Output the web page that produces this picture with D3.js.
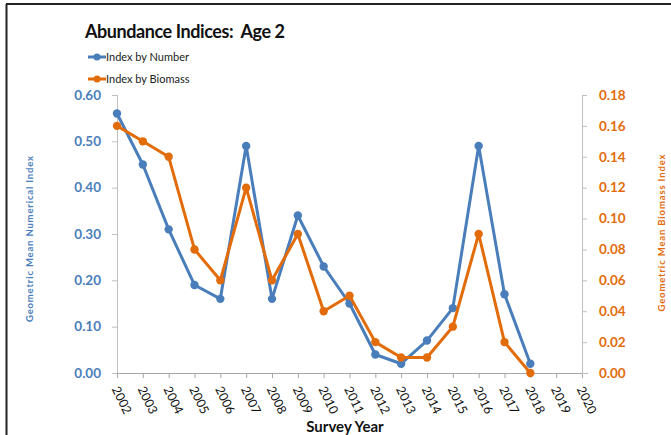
<!DOCTYPE html>
<html>
<head>
<meta charset="utf-8">
<script src="https://cdn.jsdelivr.net/npm/d3@7"></script>
<style>
  body { margin: 0; background: #fff; }
  text { font-family: Lato, "Open Sans", sans-serif; }
</style>
</head>
<body>
<svg id="chart" width="671" height="435"></svg>
<script>
// data
const years = [2002, 2003, 2004, 2005, 2006, 2007, 2008, 2009, 2010, 2011,
  2012, 2013, 2014, 2015, 2016, 2017, 2018, 2019, 2020];
const byNumber = [0.56, 0.45, 0.31, 0.19, 0.16, 0.49, 0.16, 0.34, 0.23, 0.15,
  0.04, 0.02, 0.07, 0.14, 0.49, 0.17, 0.02];
const byBiomass = [0.16, 0.15, 0.14, 0.08, 0.06, 0.12, 0.06, 0.09, 0.04, 0.05,
  0.02, 0.01, 0.01, 0.03, 0.09, 0.02, 0.00];
const leftTicks = [0, 0.1, 0.2, 0.3, 0.4, 0.5, 0.6];
const rightTicks = [0, 0.02, 0.04, 0.06, 0.08, 0.10, 0.12, 0.14, 0.16, 0.18];

const blue = "#4a7ebb", orange = "#e36c0a";
const svg = d3.select("#chart");

// frame lines
svg.append("line").attr("x1", 6).attr("x2", 671).attr("y1", 4).attr("y2", 4)
  .attr("stroke", "#222").attr("stroke-width", 2);
svg.append("line").attr("x1", 6.5).attr("x2", 6.5).attr("y1", 4).attr("y2", 435)
  .attr("stroke", "#222").attr("stroke-width", 2);

// scales
let x = d3.scalePoint().domain(years).range([117, 582]),
  yL = d3.scaleLinear().domain([0, 0.6]).range([373, 95]),
  yR = d3.scaleLinear().domain([0, 0.18]).range([373, 95]);

// axes
let gx = svg.append("g").attr("transform", "translate(0,373)")
  .call(d3.axisBottom(x).tickSize(5).tickFormat(""));
gx.select(".domain").attr("d", "M112,0.5H588");
gx.selectAll("line, path").attr("stroke", "#a6a6a6");
gx.selectAll(".tick").append("text")
  .attr("transform", "translate(-2,14) rotate(64)")
  .attr("fill", "#111").attr("font-size", 12.5)
  .attr("text-anchor", "start").attr("dy", "0.35em")
  .text(d => d);

let gl = svg.append("g").attr("transform", "translate(117,0)")
  .call(d3.axisLeft(yL).tickValues(leftTicks).tickFormat(d3.format(".2f")).tickSize(5).tickPadding(11));
gl.select(".domain").attr("d", "M0.5,95V373");
gl.selectAll("line, path").attr("stroke", "#bfbfbf");
gl.selectAll("text").attr("fill", blue).attr("font-size", 13.5).attr("font-weight", "bold");

let gr = svg.append("g").attr("transform", "translate(582,0)")
  .call(d3.axisRight(yR).tickValues(rightTicks).tickFormat(d3.format(".2f")).tickSize(5).tickPadding(12));
gr.select(".domain").attr("d", "M0.5,95V373");
gr.selectAll("line, path").attr("stroke", "#bfbfbf");
gr.selectAll("text").attr("fill", orange).attr("font-size", 13.5).attr("font-weight", "bold");

// series
function drawSeries(values, y, color) {
  let pts = values.map((v, i) => [x(years[i]), y(v)]);
  svg.append("path").datum(pts)
    .attr("fill", "none").attr("stroke", color).attr("stroke-width", 3)
    .attr("stroke-linejoin", "round")
    .attr("d", d3.line());
  svg.append("g").selectAll("circle").data(pts).join("circle")
    .attr("cx", d => d[0]).attr("cy", d => d[1]).attr("r", 4.2)
    .attr("fill", color);
}
drawSeries(byNumber, yL, blue);
drawSeries(byBiomass, yR, orange);

// title
svg.append("text").attr("x", 85).attr("y", 38)
  .style("white-space", "pre")
  .attr("font-size", 18).attr("font-weight", "bold").attr("fill", "#111")
  .attr("textLength", 200).text("Abundance Indices:  Age 2");

// legend
const legend = [["Index by Number", blue], ["Index by Biomass", orange]];
legend.forEach(([name, color], i) => {
  let ly = 57 + i * 22;
  svg.append("line").attr("x1", 88).attr("x2", 106).attr("y1", ly).attr("y2", ly)
    .attr("stroke", color).attr("stroke-width", 3);
  svg.append("circle").attr("cx", 97).attr("cy", ly).attr("r", 3.5).attr("fill", color);
  svg.append("text").attr("x", 106).attr("y", ly + 4)
    .attr("font-size", 11).attr("fill", "#222").text(name);
});

// axis titles
svg.append("text").attr("x", 345).attr("y", 432).attr("text-anchor", "middle")
  .attr("font-size", 15).attr("font-weight", "bold").attr("fill", "#111")
  .text("Survey Year");
svg.append("text").attr("transform", "translate(33,239) rotate(-90)")
  .attr("text-anchor", "middle").attr("font-size", 9.5).attr("font-weight", "bold")
  .attr("fill", blue).attr("textLength", 166).text("Geometric Mean Numerical Index");
svg.append("text").attr("transform", "translate(665,233) rotate(-90)")
  .attr("text-anchor", "middle").attr("font-size", 9.5).attr("font-weight", "bold")
  .attr("fill", orange).attr("textLength", 157).text("Geometric Mean Biomass Index");
</script>
</body>
</html>
